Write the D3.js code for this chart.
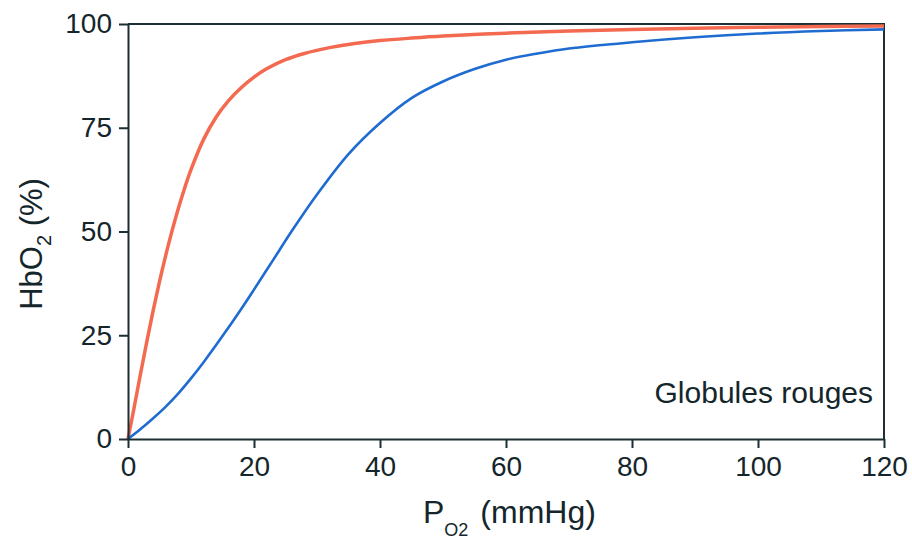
<!DOCTYPE html>
<html>
<head>
<meta charset="utf-8">
<script src="https://cdn.jsdelivr.net/npm/d3@7"></script>
<style>
  html, body { margin: 0; padding: 0; background: #fff; }
  svg { display: block; font-family: "Liberation Sans", Arial, Helvetica, sans-serif; }
</style>
</head>
<body>
<svg id="chart" width="912" height="539"></svg>
<script>
// ---- data ----
const redX = [0, 1, 2, 3, 4, 5, 6, 7, 8, 9, 10, 12, 14, 16, 18, 20, 22, 25, 28, 32, 36, 40, 45, 50, 60, 70, 80, 90, 100, 110, 120];
const redY = [0, 7.8, 15.8, 23.6, 31, 37.9, 44.3, 50.2, 55.6, 60.5, 64.9, 72.2, 77.6, 81.6, 84.7, 87.2, 89.2, 91.4, 92.9, 94.3, 95.3, 96.0, 96.6, 97.1, 97.8, 98.3, 98.7, 99.0, 99.2, 99.4, 99.5];
const blueX = [0, 2, 4, 6, 8, 10, 12, 15, 18, 20, 23, 26, 30, 35, 40, 45, 50, 55, 60, 65, 70, 80, 90, 100, 110, 120];
const blueY = [0, 2.4, 5.0, 7.8, 11.0, 14.6, 18.5, 24.8, 31.4, 36.0, 43.05, 50.1, 58.9, 68.65, 76.15, 82.15, 86.15, 89.15, 91.4, 92.9, 94.1, 95.6, 96.8, 97.7, 98.3, 98.7];
const xTicks = [0, 20, 40, 60, 80, 100, 120];
const yTicks = [0, 25, 50, 75, 100];
const annotation = "Globules rouges";

// ---- layout ----
const W = 912, H = 539;
const m = { left: 128, right: 28, top: 24, bottom: 100 };
const axisColor = "#1b2f35";
const textColor = "#14262b";

const svg = d3.select("#chart");
const x = d3.scaleLinear().domain([0, 120]).range([m.left, W - m.right]);
const y = d3.scaleLinear().domain([0, 100]).range([H - m.bottom, m.top]);

// frame (top and right)
svg.append("path")
  .attr("d", `M${x(0)},${y(100)}H${x(120)}V${y(0)}`)
  .attr("fill", "none").attr("stroke", axisColor).attr("stroke-width", 2);

// curves
const line = d3.line().x(d => x(d[0])).y(d => y(d[1])).curve(d3.curveCatmullRom.alpha(0.5));
svg.append("path")
  .datum(redX.map((v, i) => [v, redY[i]]))
  .attr("d", line).attr("fill", "none")
  .attr("stroke", "#f36a50").attr("stroke-width", 3.5).attr("stroke-linejoin", "round");
svg.append("path")
  .datum(blueX.map((v, i) => [v, blueY[i]]))
  .attr("d", line).attr("fill", "none")
  .attr("stroke", "#1f6cd0").attr("stroke-width", 2.6).attr("stroke-linejoin", "round");

// axes
const xAxis = svg.append("g").attr("transform", `translate(0,${y(0)})`)
  .call(d3.axisBottom(x).tickValues(xTicks).tickSize(9).tickPadding(7).tickSizeOuter(0));
const yAxis = svg.append("g").attr("transform", `translate(${x(0)},0)`)
  .call(d3.axisLeft(y).tickValues(yTicks).tickSize(9).tickPadding(7).tickSizeOuter(0));
[xAxis, yAxis].forEach(g => {
  g.select(".domain").attr("stroke", axisColor).attr("stroke-width", 2);
  g.selectAll(".tick line").attr("stroke", axisColor).attr("stroke-width", 2);
  g.selectAll(".tick text").attr("fill", textColor)
    .style("font-size", "28px").style("font-family", "'Liberation Sans', Arial, sans-serif");
});
xAxis.selectAll(".tick text").attr("dy", "0.74em");

// annotation
svg.append("text")
  .attr("x", x(120) - 11).attr("y", 403)
  .attr("text-anchor", "end")
  .attr("fill", textColor).style("font-size", "30px")
  .text(annotation);

// x title
const xt = svg.append("text").attr("x", 423).attr("y", 523)
  .attr("fill", textColor).style("font-size", "32px");
xt.append("tspan").text("P");
xt.append("tspan").attr("dy", 13).style("font-size", "18px").text("O2");
xt.append("tspan").attr("dy", -13).attr("dx", 12).text("(mmHg)");

// y title
const yt = svg.append("text")
  .attr("transform", `translate(42,${244}) rotate(-90)`)
  .attr("text-anchor", "middle")
  .attr("fill", textColor).style("font-size", "31px");
yt.append("tspan").text("HbO");
yt.append("tspan").attr("dy", 9).style("font-size", "20px").text("2");
yt.append("tspan").attr("dy", -9).text(" (%)");
</script>
</body>
</html>
